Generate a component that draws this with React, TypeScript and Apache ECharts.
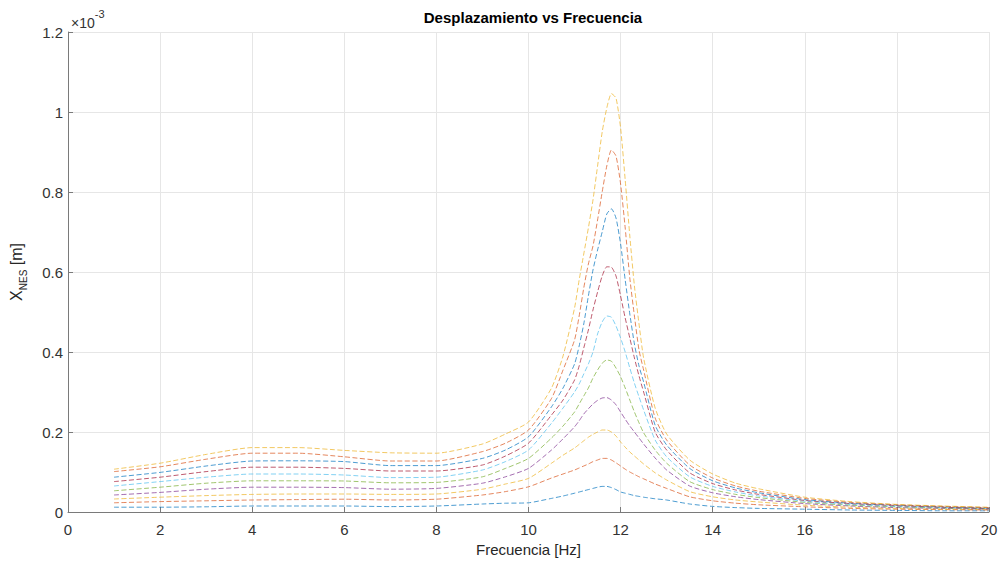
import React, { useEffect, useRef } from "react";
import * as echarts from "echarts";

// Frequency samples [Hz]
const FREQ = [1, 2, 3, 4, 5, 6, 7, 8, 9, 9.5, 10, 10.5, 10.75, 11, 11.1, 11.2, 11.3, 11.4, 11.5, 11.6, 11.7, 11.8, 11.9, 12, 12.1, 12.2, 12.3, 12.4, 12.5, 12.75, 13, 13.5, 14, 14.5, 15, 16, 17, 18, 19, 20];

// Displacement values (x 10^-3 m), curves from lowest to highest
const C1 = [0.012, 0.012, 0.013, 0.015, 0.015, 0.015, 0.0135, 0.015, 0.02, 0.022, 0.023, 0.034, 0.04, 0.047, 0.05, 0.053, 0.056, 0.059, 0.062, 0.064, 0.064, 0.061, 0.056, 0.05, 0.047, 0.044, 0.041, 0.039, 0.037, 0.033, 0.03, 0.02, 0.014, 0.011, 0.009, 0.007, 0.005, 0.004, 0.003, 0.003];
const C2 = [0.023, 0.026, 0.028, 0.03, 0.031, 0.032, 0.03, 0.032, 0.0425, 0.051, 0.063, 0.085, 0.095, 0.105, 0.11, 0.115, 0.12, 0.126, 0.13, 0.134, 0.134, 0.13, 0.123, 0.115, 0.107, 0.1, 0.094, 0.088, 0.083, 0.07, 0.059, 0.038, 0.028, 0.022, 0.018, 0.013, 0.009, 0.007, 0.006, 0.005];
const C3 = [0.0325, 0.037, 0.041, 0.044, 0.045, 0.045, 0.044, 0.045, 0.057, 0.07, 0.084, 0.122, 0.142, 0.16, 0.169, 0.178, 0.187, 0.194, 0.2, 0.205, 0.205, 0.2, 0.19, 0.175, 0.162, 0.15, 0.14, 0.13, 0.12, 0.098, 0.08, 0.051, 0.038, 0.03, 0.025, 0.017, 0.012, 0.009, 0.007, 0.006];
const C4 = [0.0425, 0.049, 0.057, 0.062, 0.062, 0.061, 0.057, 0.059, 0.072, 0.088, 0.109, 0.155, 0.183, 0.213, 0.228, 0.245, 0.258, 0.27, 0.279, 0.285, 0.286, 0.28, 0.268, 0.25, 0.232, 0.215, 0.2, 0.185, 0.17, 0.135, 0.105, 0.065, 0.048, 0.038, 0.031, 0.021, 0.015, 0.011, 0.009, 0.007];
const C5 = [0.053, 0.062, 0.072, 0.078, 0.078, 0.0775, 0.073, 0.074, 0.088, 0.109, 0.134, 0.185, 0.215, 0.25, 0.27, 0.29, 0.31, 0.335, 0.355, 0.372, 0.38, 0.377, 0.36, 0.338, 0.31, 0.28, 0.25, 0.223, 0.198, 0.155, 0.122, 0.076, 0.056, 0.044, 0.036, 0.024, 0.017, 0.013, 0.01, 0.008];
const C6 = [0.065, 0.076, 0.087, 0.095, 0.095, 0.0925, 0.086, 0.087, 0.105, 0.126, 0.155, 0.222, 0.26, 0.3, 0.32, 0.345, 0.37, 0.4, 0.445, 0.475, 0.49, 0.487, 0.465, 0.435, 0.4, 0.36, 0.322, 0.288, 0.255, 0.18, 0.138, 0.088, 0.064, 0.05, 0.04, 0.027, 0.019, 0.014, 0.011, 0.009];
const C7 = [0.076, 0.087, 0.101, 0.112, 0.112, 0.109, 0.1025, 0.1025, 0.1175, 0.14, 0.172, 0.2425, 0.28, 0.33, 0.365, 0.41, 0.455, 0.505, 0.55, 0.59, 0.613, 0.612, 0.59, 0.54, 0.485, 0.435, 0.385, 0.34, 0.3, 0.2, 0.155, 0.098, 0.071, 0.055, 0.044, 0.029, 0.021, 0.016, 0.012, 0.009];
const C8 = [0.087, 0.099, 0.115, 0.1275, 0.128, 0.126, 0.116, 0.116, 0.134, 0.155, 0.188, 0.263, 0.31, 0.37, 0.415, 0.47, 0.54, 0.605, 0.655, 0.7, 0.745, 0.758, 0.735, 0.67, 0.58, 0.495, 0.42, 0.365, 0.325, 0.217, 0.1675, 0.109, 0.078, 0.06, 0.048, 0.031, 0.022, 0.017, 0.013, 0.01];
const C9 = [0.101, 0.113, 0.132, 0.147, 0.147, 0.138, 0.1275, 0.1275, 0.151, 0.172, 0.205, 0.284, 0.355, 0.43, 0.49, 0.56, 0.62, 0.665, 0.73, 0.8, 0.865, 0.905, 0.89, 0.82, 0.71, 0.585, 0.49, 0.405, 0.355, 0.235, 0.18, 0.1175, 0.085, 0.065, 0.052, 0.034, 0.024, 0.018, 0.014, 0.011];
const C10 = [0.107, 0.122, 0.144, 0.161, 0.161, 0.154, 0.148, 0.147, 0.17, 0.195, 0.225, 0.31, 0.39, 0.51, 0.58, 0.645, 0.71, 0.78, 0.865, 0.95, 1.01, 1.046, 1.035, 0.96, 0.83, 0.69, 0.565, 0.47, 0.385, 0.26, 0.195, 0.13, 0.095, 0.072, 0.058, 0.037, 0.026, 0.019, 0.015, 0.012];

const CURVES = [C1, C2, C3, C4, C5, C6, C7, C8, C9, C10];
const COLORS = ["#0072BD", "#D95319", "#EDB120", "#7E2F8E", "#77AC30", "#4DBEEE", "#A2142F", "#0072BD", "#D95319", "#EDB120"];

const TITLE = "Desplazamiento vs Frecuencia";
const X_NAME = "Frecuencia [Hz]";

const FONT = "'Liberation Sans', Arial, Helvetica, sans-serif";

export default function App() {
  const ref = useRef<HTMLDivElement>(null);
  useEffect(() => {
    document.body.style.margin = "0";
    const chart = echarts.init(ref.current as HTMLDivElement, null, { renderer: "svg" });
    chart.setOption({
      animation: false,
      backgroundColor: "#ffffff",
      textStyle: { fontFamily: FONT },
      title: {
        text: TITLE,
        left: 528,
        top: 5,
        textAlign: "center",
        textStyle: { fontSize: 15, fontWeight: "bold", color: "#000", fontFamily: FONT },
      },
      grid: { left: 68, right: 14, top: 32, bottom: 51 },
      xAxis: {
        type: "value",
        min: 0,
        max: 20,
        interval: 2,
        name: X_NAME,
        nameLocation: "middle",
        nameGap: 28,
        nameTextStyle: { fontSize: 15, color: "#262626", fontFamily: FONT },
        axisLine: { show: true, lineStyle: { color: "#7a7a7a", width: 1 } },
        axisTick: { show: true, inside: true, length: 5, lineStyle: { color: "#7a7a7a" } },
        axisLabel: { fontSize: 15, color: "#333", margin: 10, fontFamily: FONT },
        splitLine: { show: true, lineStyle: { color: "#e6e6e6", width: 1 } },
      },
      yAxis: {
        type: "value",
        min: 0,
        max: 1.2,
        interval: 0.2,
        name: "X{sub|NES} [m]",
        nameLocation: "middle",
        nameGap: 40,
        nameRotate: 90,
        nameTextStyle: {
          fontSize: 16,
          color: "#262626",
          fontFamily: FONT,
          rich: {
            sub: { fontSize: 10, color: "#262626", fontFamily: FONT, verticalAlign: "bottom", lineHeight: 24 },
          },
        },
        axisLine: { show: true, lineStyle: { color: "#7a7a7a", width: 1 } },
        axisTick: { show: true, inside: true, length: 5, lineStyle: { color: "#7a7a7a" } },
        axisLabel: {
          fontSize: 15,
          color: "#333",
          margin: 5,
          fontFamily: FONT,
          formatter: (v: number) => String(+v.toFixed(1)),
        },
        splitLine: { show: true, lineStyle: { color: "#e6e6e6", width: 1 } },
      },
      graphic: [
        {
          type: "text",
          left: 71,
          top: 8,
          style: {
            text: "{base|×10}{sup|-3}",
            fontFamily: FONT,
            fill: "#333",
            rich: {
              base: { fontSize: 14, fontFamily: FONT, fill: "#333", verticalAlign: "bottom", lineHeight: 22 },
              sup: { fontSize: 11, fontFamily: FONT, fill: "#333", verticalAlign: "top", lineHeight: 22 },
            },
          },
        },
      ],
      series: CURVES.map((vals, k) => ({
        type: "line",
        name: "curve" + (k + 1),
        data: FREQ.map((f, i) => [f, vals[i]]),
        showSymbol: false,
        symbol: "none",
        smooth: 0.2,
        lineStyle: { color: COLORS[k], width: 1, type: [5, 2.5], opacity: 0.7 },
        itemStyle: { color: COLORS[k] },
        z: 2,
      })),
    });
    return () => chart.dispose();
  }, []);
  return <div ref={ref} style={{ width: 1003, height: 563 }} />;
}
